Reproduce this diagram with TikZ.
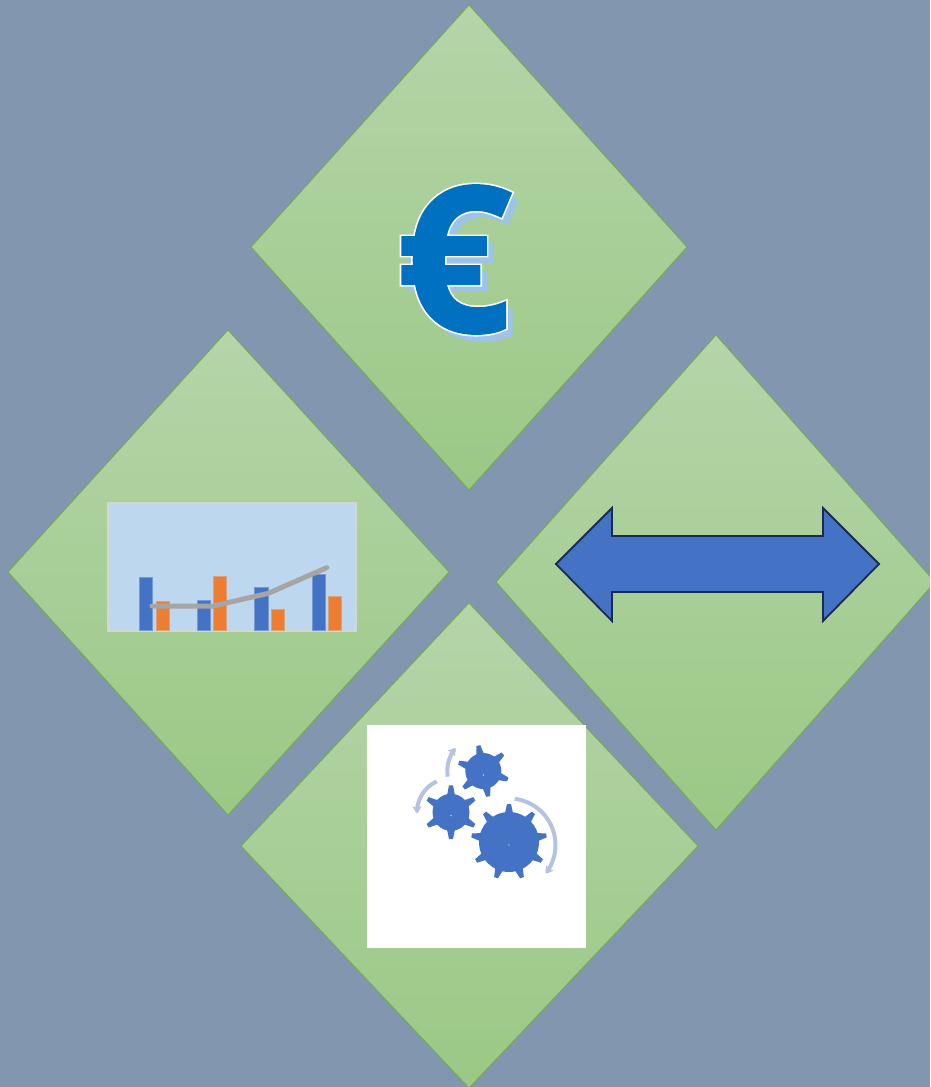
\documentclass[tikz,border=0pt]{standalone}
\usepackage{fontspec}
\usetikzlibrary{arrows.meta,calc}
\newfontfamily\eurofontA[BoldFeatures={FakeBold=1}]{Open Sans}
\newfontfamily\eurofontB[BoldFeatures={FakeBold=2.6}]{Open Sans}
\definecolor{bgc}{HTML}{8296AF}
\definecolor{dtop}{HTML}{B5D5A9}
\definecolor{dbot}{HTML}{9BC885}
\definecolor{dedge}{HTML}{70AD47}
\definecolor{blueA}{HTML}{4472C4}
\definecolor{navy}{HTML}{172C51}
\definecolor{orangeA}{HTML}{ED7D31}
\definecolor{grayA}{HTML}{A5A5A5}
\definecolor{chartbg}{HTML}{BDD7EE}
\definecolor{chartedge}{HTML}{D4D6D4}
\definecolor{arcc}{HTML}{B4C2E3}
\definecolor{euroC}{HTML}{0070C0}
\definecolor{euroS}{HTML}{9DC3E6}
\tikzset{
  diamondshape/.style={draw=dedge,line width=0.8pt,top color=dtop,bottom color=dbot},
  barblue/.style={fill=blueA,draw=blueA!60!chartbg,line width=0.4pt},
  barorange/.style={fill=orangeA,draw=orangeA!60!chartbg,line width=0.4pt},
  gearfill/.style={fill=blueA,draw=none},
  turnarc/.style={draw=arcc,line width=4pt,-{Stealth[length=7pt,width=9pt,inset=1pt]}},
  euro/.style={inner sep=0pt,anchor=center}
}
\newcommand{\eurosize}{\bfseries\fontsize{204}{204}\selectfont}
% cx cy body-radius tip-radius start-angle count
\newcommand{\gearat}[6]{%
  \fill[gearfill] (#1,#2) circle[radius=#3];
  \pgfmathsetmacro{\gstep}{360/#6}
  \pgfmathsetmacro{\dbase}{4.2/#3*57.3}
  \pgfmathsetmacro{\dtip}{2/#4*57.3}
  \foreach \k in {1,...,#6}{
    \pgfmathsetmacro{\ga}{#5+(\k-1)*\gstep}
    \fill[gearfill] ($(#1,#2)+(\ga-\dbase:#3-1)$) -- ($(#1,#2)+(\ga-\dtip:#4)$)
       -- ($(#1,#2)+(\ga+\dtip:#4)$) -- ($(#1,#2)+(\ga+\dbase:#3-1)$) -- cycle;
  }
}
\begin{document}
\begin{tikzpicture}[x=1pt,y=-1pt]
\useasboundingbox (0,0) rectangle (930,1087);
\clip (0,0) rectangle (930,1087);
\fill[bgc] (0,0) rectangle (930,1087);
% diamonds
\path[diamondshape] (469,5) -- (687,247) -- (469,490) -- (251,247) -- cycle;
\path[diamondshape] (228,330) -- (449,572) -- (228,815) -- (8,572) -- cycle;
\path[diamondshape] (716,335) -- (935,582) -- (716,830) -- (496,582) -- cycle;
\path[diamondshape] (469,603) -- (698,846) -- (469,1088) -- (241,846) -- cycle;
% euro
\node[euro,text=euroS] (euroshadow) at (460.5,266.5) {\eurofontA\eurosize €};
\node[euro,text=white] (eurohalo) at (454,259.5) {\eurofontB\eurosize €};
\node[euro,text=euroC] (euromain) at (454,259.5) {\eurofontA\eurosize €};
% double arrow
\draw[fill=blueA,draw=navy,line width=1.8pt,line join=miter]
  (556,564) -- (612,508) -- (612,536) -- (823,536) -- (823,508) -- (879,564)
  -- (823,621) -- (823,592) -- (612,592) -- (612,621) -- cycle;
% chart
\draw[fill=chartbg,draw=chartedge,line width=1.6pt] (108,503) rectangle (356,631);
\path[barblue] (139.3,630) rectangle (152.3,576.7);
\path[barorange] (156,630) rectangle (168.7,601);
\path[barblue] (197,630) rectangle (210,600);
\path[barorange] (213.3,630) rectangle (226.3,575.7);
\path[barblue] (254.3,630) rectangle (267.7,587.3);
\path[barorange] (271,630) rectangle (284,608.7);
\path[barblue] (312,630) rectangle (325,574.3);
\path[barorange] (328.3,630) rectangle (341.3,596);
\draw[grayA,line width=5pt,line cap=round,line join=round]
  (152,606) -- (213.3,606) -- (268.3,593.3) -- (326.7,567.7);
% gears panel
\fill[white] (367,725) rectangle (586,948);
\gearat{509}{842}{30}{38}{-90}{9}
\gearat{451}{812.3}{18.5}{27}{-90}{6}
\gearat{483.3}{771}{18}{26}{-101}{6}
\fill[white] (509,845) circle[radius=0.7];
\fill[white] (451,815.7) circle[radius=0.7];
\fill[white] (483.3,775) circle[radius=0.7];
\draw[turnarc] plot[smooth,domain=-83:38,samples=25] ({509+46.5*cos(\x)},{845+46.5*sin(\x)});
\draw[turnarc] plot[smooth,domain=245:178,samples=15] ({451+34*cos(\x)},{812.3+34*sin(\x)});
\draw[turnarc] plot[smooth,domain=171:220,samples=12] ({483.3+36*cos(\x)},{771+36*sin(\x)});
\end{tikzpicture}
\end{document}
